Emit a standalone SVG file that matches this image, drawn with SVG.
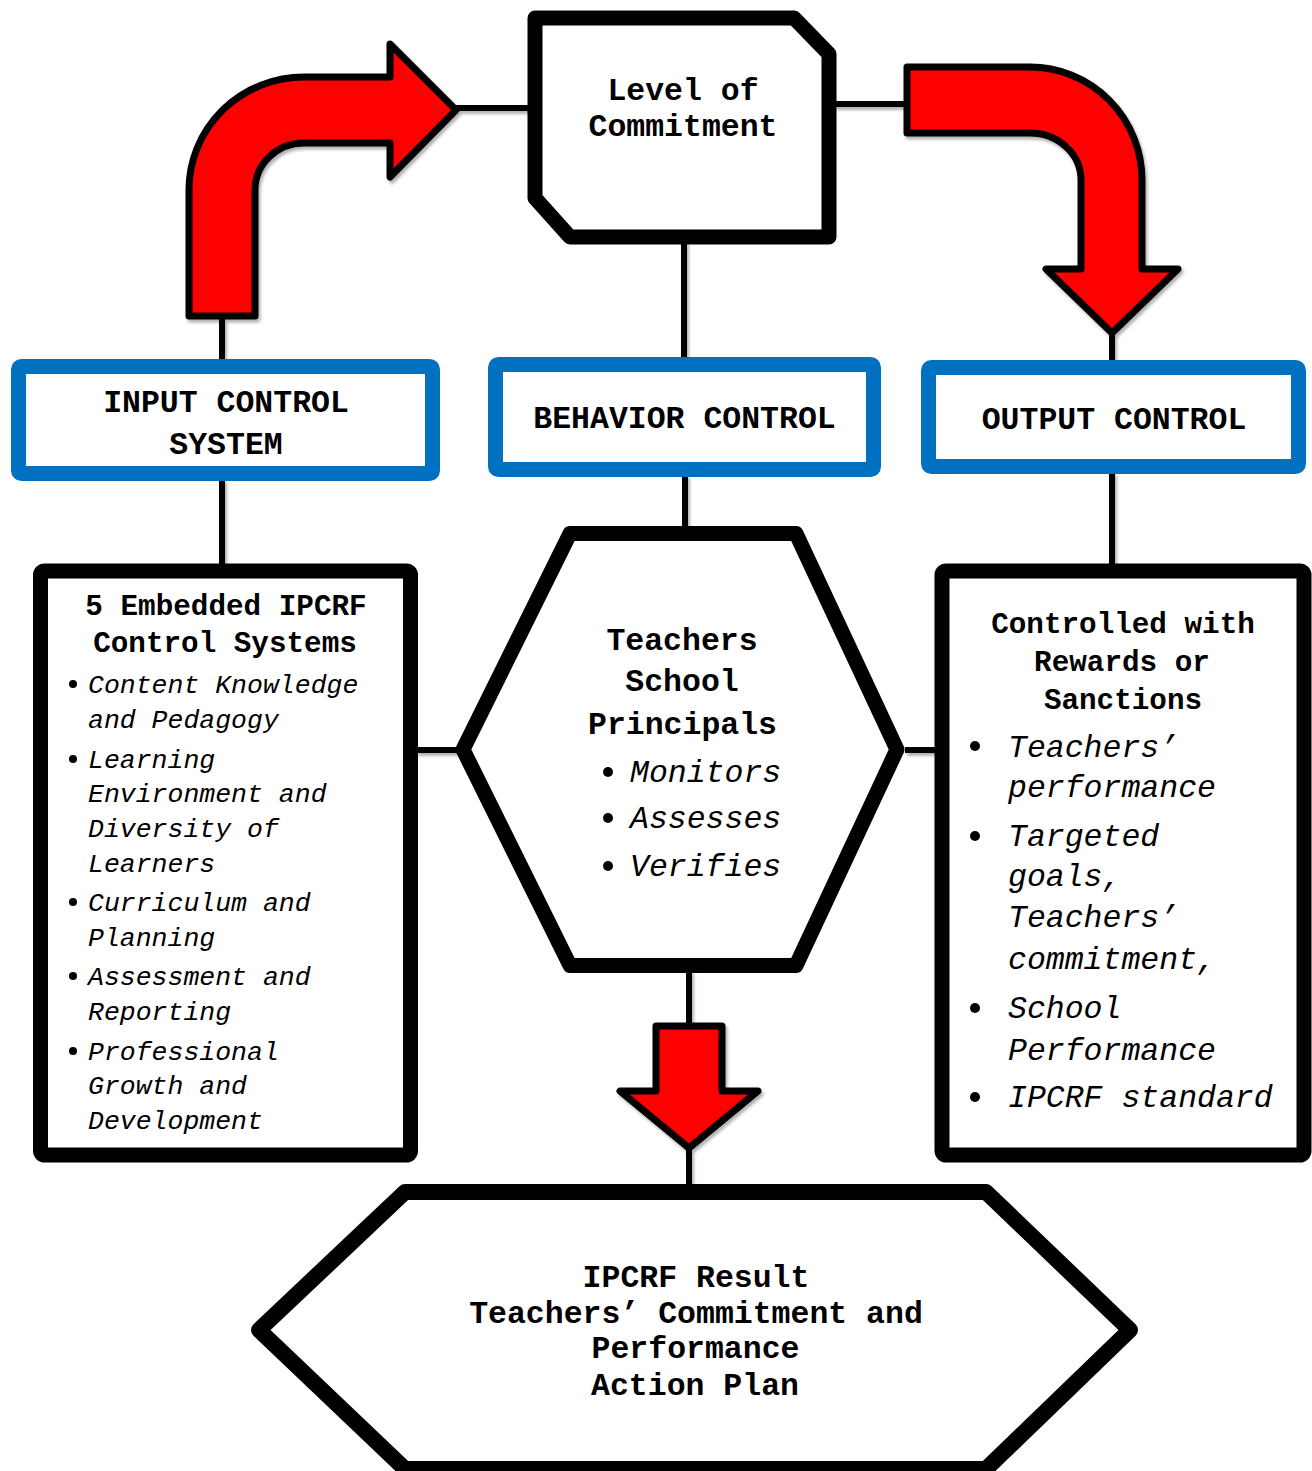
<svg xmlns="http://www.w3.org/2000/svg" width="1312" height="1471" viewBox="0 0 1312 1471">
<defs>
<filter id="sh" x="-20%" y="-20%" width="140%" height="140%">
<feDropShadow dx="2" dy="3" stdDeviation="1.5" flood-color="#000" flood-opacity="0.3"/>
</filter>
</defs>
<style>
text{font-family:"Liberation Mono","Courier New",monospace;fill:#000}
.b{font-weight:bold;font-size:31.5px;text-anchor:middle}
.bs{font-weight:bold;font-size:29.3px;text-anchor:middle}
.i{font-style:italic;font-size:31.5px}
.is{font-style:italic;font-size:26.5px}
.blue{fill:#fff;stroke:#0070C0;stroke-width:15;stroke-linejoin:round}
.blk{fill:#fff;stroke:#000;stroke-width:15;stroke-linejoin:round}
.red{fill:#FF0000;stroke:#000;stroke-width:7;stroke-linejoin:round}
.ln{fill:none;stroke:#000;stroke-width:6}
</style>
<rect width="1312" height="1471" fill="#fff"/>
<g id="connectors" filter="url(#sh)">
<path class="ln" d="M222,318V361"/>
<path class="ln" d="M455,108H530"/>
<path class="ln" d="M834,104H908"/>
<path class="ln" d="M1112,331V362"/>
<path class="ln" d="M684,241V359"/>
<path class="ln" d="M685,475V528"/>
<path class="ln" d="M222,479V566"/>
<path class="ln" d="M1112,472V566"/>
<path class="ln" d="M416,750H458"/>
<path class="ln" d="M905,750H937"/>
<path class="ln" d="M689,970V1026"/>
<path class="ln" d="M689,1148V1188"/>
<path id="arrow-left" class="red" d="M189,316 L189,190 A115,113 0 0 1 304,77 L390,77 L390,44 L456,110 L390,177 L390,143 L304,143 A49,47 0 0 0 255,190 L255,316 Z"/>
<path id="arrow-right" class="red" d="M907,67 L1030,67 A112,113 0 0 1 1142,180 L1142,269 L1178,269 L1112,333 L1046,269 L1081,269 L1081,180 A51,47 0 0 0 1030,133 L907,133 Z"/>
<path id="arrow-down" class="red" d="M656,1026 L722,1026 L722,1091 L758,1091 L689,1148 L620,1091 L656,1091 Z"/>
</g>
<g id="commitment">
<path class="blk" d="M535,18 L794,18 L829,54 L829,237 L570,237 L535,198 Z"/>
<text class="b" x="683" y="100">Level of</text>
<text class="b" x="683" y="136">Commitment</text>
</g>
<g id="input-control">
<rect class="blue" x="18.5" y="366.5" width="414" height="107" rx="3"/>
<text class="b" x="226" y="412">INPUT CONTROL</text>
<text class="b" x="226" y="454">SYSTEM</text>
</g>
<g id="behavior-control">
<rect class="blue" x="495.5" y="364.5" width="378" height="105" rx="3"/>
<text class="b" x="684.5" y="428">BEHAVIOR CONTROL</text>
</g>
<g id="output-control">
<rect class="blue" x="928.5" y="367.5" width="370" height="99" rx="3"/>
<text class="b" x="1114" y="429">OUTPUT CONTROL</text>
</g>
<g id="ipcrf-systems">
<rect class="blk" x="40.5" y="571" width="370" height="584" rx="4"/>
<text class="bs" x="226" y="615">5 Embedded IPCRF</text>
<text class="bs" x="225" y="652">Control Systems</text>
<circle cx="73" cy="684" r="4"/>
<circle cx="73" cy="759" r="4"/>
<circle cx="73" cy="902" r="4"/>
<circle cx="73" cy="976" r="4"/>
<circle cx="73" cy="1051" r="4"/>
<text class="is" x="88" y="693">Content Knowledge</text>
<text class="is" x="88" y="728">and Pedagogy</text>
<text class="is" x="88" y="768">Learning</text>
<text class="is" x="88" y="802">Environment and</text>
<text class="is" x="88" y="837">Diversity of</text>
<text class="is" x="88" y="872">Learners</text>
<text class="is" x="88" y="911">Curriculum and</text>
<text class="is" x="88" y="946">Planning</text>
<text class="is" x="88" y="985">Assessment and</text>
<text class="is" x="88" y="1020">Reporting</text>
<text class="is" x="88" y="1060">Professional</text>
<text class="is" x="88" y="1094">Growth and</text>
<text class="is" x="88" y="1129">Development</text>
</g>
<g id="teachers-principals">
<path class="blk" d="M570,533.5 L796,533.5 L897,749.5 L796,965.5 L570,965.5 L463,749.5 Z"/>
<text class="b" x="682" y="650">Teachers</text>
<text class="b" x="682" y="691">School</text>
<text class="b" x="682.5" y="734">Principals</text>
<circle cx="608" cy="772" r="5"/>
<circle cx="608" cy="818" r="5"/>
<circle cx="608" cy="866" r="5"/>
<text class="i" x="630" y="782">Monitors</text>
<text class="i" x="630" y="828">Assesses</text>
<text class="i" x="630" y="876">Verifies</text>
</g>
<g id="rewards-sanctions">
<rect class="blk" x="942" y="571" width="362" height="584" rx="4"/>
<text class="bs" x="1123" y="633">Controlled with</text>
<text class="bs" x="1122" y="671">Rewards or</text>
<text class="bs" x="1123" y="709">Sanctions</text>
<circle cx="975" cy="746" r="5"/>
<circle cx="975" cy="836" r="5"/>
<circle cx="975" cy="1008" r="5"/>
<circle cx="975" cy="1097" r="5"/>
<text class="i" x="1008" y="757">Teachers’</text>
<text class="i" x="1008" y="797">performance</text>
<text class="i" x="1008" y="846">Targeted</text>
<text class="i" x="1008" y="886">goals,</text>
<text class="i" x="1008" y="927">Teachers’</text>
<text class="i" x="1008" y="969">commitment,</text>
<text class="i" x="1008" y="1018">School</text>
<text class="i" x="1008" y="1060">Performance</text>
<text class="i" x="1008" y="1107">IPCRF standard</text>
</g>
<g id="ipcrf-result">
<path class="blk" style="stroke-width:16" d="M405,1192 L986,1192 L1130,1330 L986,1469 L405,1469 L259,1330 Z"/>
<text class="b" x="696" y="1287">IPCRF Result</text>
<text class="b" x="696" y="1323">Teachers’ Commitment and</text>
<text class="b" x="695.5" y="1358">Performance</text>
<text class="b" x="695" y="1395">Action Plan</text>
</g>
</svg>
